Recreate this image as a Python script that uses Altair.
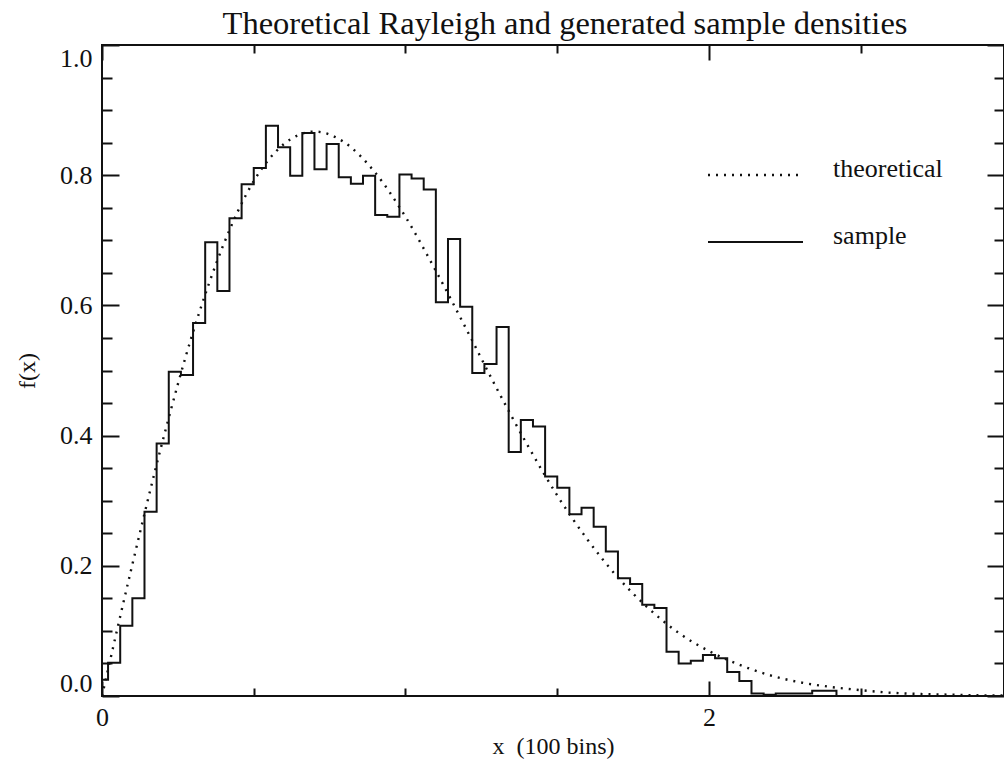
import altair as alt
import pandas as pd

# ---------------- data ----------------
# sample histogram (100 bins, bin centres every 0.04)
sample_values = [
    0.025, 0.051, 0.108, 0.150, 0.283, 0.388, 0.498, 0.493, 0.573, 0.697,
    0.622, 0.734, 0.786, 0.811, 0.876, 0.843, 0.799, 0.865, 0.809, 0.848,
    0.797, 0.787, 0.799, 0.739, 0.736, 0.801, 0.795, 0.778, 0.605, 0.702,
    0.598, 0.496, 0.510, 0.567, 0.375, 0.424, 0.414, 0.337, 0.320, 0.279,
    0.289, 0.260, 0.222, 0.181, 0.172, 0.140, 0.135, 0.068, 0.050, 0.054,
    0.063, 0.058, 0.037, 0.023, 0.004, 0.002, 0.004, 0.004, 0.004, 0.008,
    0.008, 0.0, 0.0, 0.0, 0.0, 0.0, 0.0, 0.0, 0.0, 0.0,
    0.0, 0.0, 0.0, 0.0, 0.0, 0.0, 0.0, 0.0, 0.0, 0.0,
    0.0, 0.0, 0.0, 0.0, 0.0, 0.0, 0.0, 0.0, 0.0, 0.0,
    0.0, 0.0, 0.0, 0.0, 0.0, 0.0, 0.0, 0.0, 0.0, 0.0,
]
bin_step = 0.04
bin_x = [round(k * bin_step, 2) for k in range(len(sample_values))]

# theoretical density read at x = 0.0, 0.1, ..., 3.0
theo_x = [0.0, 0.1, 0.2, 0.3, 0.4, 0.5, 0.6, 0.7, 0.8, 0.9, 1.0,
          1.1, 1.2, 1.3, 1.4, 1.5, 1.6, 1.7, 1.8, 1.9, 2.0,
          2.1, 2.2, 2.3, 2.4, 2.5, 2.6, 2.7, 2.8, 2.9, 3.0]
theo_y = [0.0, 0.202, 0.392, 0.559, 0.693, 0.791, 0.848, 0.867, 0.850, 0.804, 0.736,
          0.653, 0.564, 0.473, 0.387, 0.308, 0.240, 0.182, 0.135, 0.097, 0.069,
          0.048, 0.032, 0.021, 0.014, 0.009, 0.005, 0.003, 0.002, 0.001, 0.001]

x_major = [0, 2]
x_minor = [0.5, 1.0, 1.5, 2.5]
y_major = [0.0, 0.2, 0.4, 0.6, 0.8, 1.0]
y_minor = [0.05, 0.1, 0.15, 0.25, 0.3, 0.35, 0.45, 0.5, 0.55,
           0.65, 0.7, 0.75, 0.85, 0.9, 0.95]

title_text = "Theoretical Rayleigh and generated sample densities"
x_title = "x\u2002(100 bins)"
y_title = "f(x)"
legend_labels = ["theoretical", "sample"]

# ---------------- chart ----------------
W, H = 902, 651
XMAX = 2.972
FONT = "Liberation Serif"
INK = "#111111"

sdf = pd.DataFrame({"x": bin_x, "y": sample_values})
tdf = pd.DataFrame({"x": theo_x, "y": theo_y})
one = pd.DataFrame({"a": [0]})

xs = alt.Scale(domain=[0, XMAX], nice=False, zero=False)
ys = alt.Scale(domain=[0, 1], nice=False, zero=False)


def tick_axis(orient, values, size):
    return alt.Axis(orient=orient, offset=-(H if orient in ("top", "bottom") else W),
                    values=values, tickSize=size, tickWidth=2, tickColor=INK,
                    labels=False, domain=False, grid=False, title=None)


sample = alt.Chart(sdf).mark_line(
    interpolate="step", color=INK, strokeWidth=2, clip=True
).encode(
    x=alt.X("x:Q", scale=xs, axis=alt.Axis(
        orient="bottom", values=x_major, format="d", ticks=False, domain=False,
        grid=False, labelFlush=False, labelFont=FONT, labelFontSize=26,
        labelColor=INK, labelPadding=8, title=x_title, titleFont=FONT,
        titleFontSize=24, titleFontWeight="normal", titleColor=INK,
        titlePadding=4)),
    y=alt.Y("y:Q", scale=ys, axis=alt.Axis(
        orient="left", values=y_major, format=".1f", ticks=False, domain=False,
        grid=False, labelFlush=True, labelFont=FONT, labelFontSize=26,
        labelColor=INK, labelPadding=10, title=y_title, titleFont=FONT,
        titleFontSize=24, titleFontWeight="normal", titleColor=INK,
        titlePadding=20)),
)

theo = alt.Chart(tdf).mark_line(
    interpolate="monotone", color=INK, strokeWidth=2.4, strokeDash=[2, 6], clip=True
).encode(
    x=alt.X("x:Q", scale=xs, axis=tick_axis("top", x_major, 15)),
    y=alt.Y("y:Q", scale=ys, axis=tick_axis("right", y_major, 17)),
)


def dummy(xa, ya):
    return alt.Chart(tdf).mark_point(opacity=0).encode(
        x=alt.X("x:Q", scale=xs, axis=xa),
        y=alt.Y("y:Q", scale=ys, axis=ya),
    )


d1 = dummy(tick_axis("top", x_minor, 8), tick_axis("right", y_minor, 10))
d2 = dummy(tick_axis("bottom", x_major, 15), tick_axis("left", y_major, 17))
d3 = dummy(tick_axis("bottom", x_minor, 8), tick_axis("left", y_minor, 10))

leg_theo = alt.Chart(one).mark_rule(color=INK, strokeWidth=2.4, strokeDash=[2, 6]).encode(
    x=alt.value(606), x2=alt.value(698), y=alt.value(130))
leg_samp = alt.Chart(one).mark_rule(color=INK, strokeWidth=2).encode(
    x=alt.value(606), x2=alt.value(701), y=alt.value(197))
txt_theo = alt.Chart(one).mark_text(
    align="left", baseline="alphabetic", font=FONT, fontSize=26, color=INK
).encode(x=alt.value(731), y=alt.value(132), text=alt.value(legend_labels[0]))
txt_samp = alt.Chart(one).mark_text(
    align="left", baseline="alphabetic", font=FONT, fontSize=26, color=INK
).encode(x=alt.value(731), y=alt.value(199), text=alt.value(legend_labels[1]))

chart = alt.layer(
    sample, theo, d1, d2, d3, leg_theo, leg_samp, txt_theo, txt_samp
).resolve_axis(
    x="independent", y="independent"
).properties(
    width=W, height=H,
    padding={"left": 102, "top": 45, "right": 0, "bottom": 65},
    autosize=alt.AutoSizeParams(type="none"),
    title=alt.TitleParams(title_text, font=FONT, fontSize=32.5, fontWeight="normal",
                          color=INK, offset=4, anchor="middle", dx=12),
    background="white",
).configure_view(stroke=INK, strokeWidth=2)

chart.save("out.html", embed_options={"renderer": "svg", "actions": False})
